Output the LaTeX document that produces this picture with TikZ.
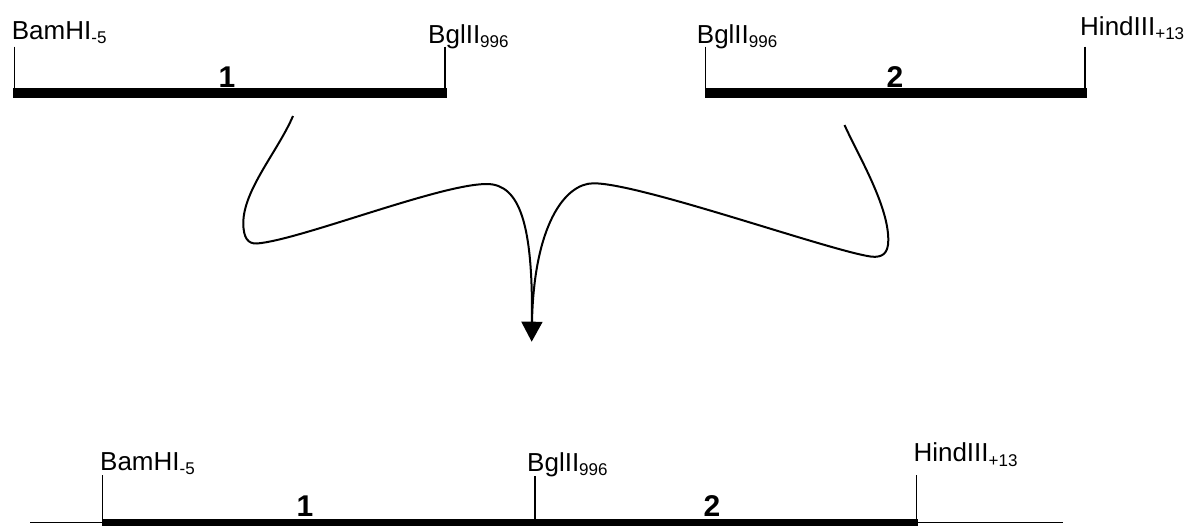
\documentclass[tikz,border=0pt]{standalone}
\usepackage{fontspec}
\setmainfont{Liberation Sans}
\usetikzlibrary{arrows.meta}
\newcommand{\mysub}[1]{\raisebox{-4.5pt}{\fontsize{17}{17}\selectfont #1}}
\begin{document}
\begin{tikzpicture}[x=1pt,y=-1pt,
  lbl/.style={anchor=base west,inner sep=0pt,font=\fontsize{26}{30}\selectfont},
  num/.style={anchor=base,inner sep=0pt,font=\fontsize{30}{33}\selectfont\bfseries},
  tickline/.style={line width=1.5pt},
  fragbar/.style={fill=black,draw=none},
  thinline/.style={line width=1.5pt},
  curve/.style={line width=2pt}]
\useasboundingbox (0,0) rectangle (1193,525);
\begin{scope}
\clip (0,0) rectangle (1193,525);
% ---- top fragment 1
\fill[fragbar] (13.3,87.5) rectangle (446.7,98);
\draw[tickline] (14.3,46.7) -- (14.3,88);
\draw[tickline] (445,46.7) -- (445,88);
\node[lbl] (bam1) at (11.7,39.3) {BamHI\mysub{-5}};
\node[lbl] (bgl1) at (428,43) {BglII\mysub{996}};
\node[num] (n1) at (227,87) {1};
% ---- top fragment 2
\fill[fragbar] (704.5,87.5) rectangle (1086.7,98);
\draw[tickline] (705.5,46.5) -- (705.5,88);
\draw[tickline] (1085,46.5) -- (1085,88);
\node[lbl] (bgl2) at (696.7,43.3) {BglII\mysub{996}};
\node[lbl] (hind2) at (1080,35) {HindIII\mysub{+13}};
\node[num] (n2) at (895,87) {2};
% ---- curves
\coordinate (s1) at (293,116);
\coordinate (s2) at (844.5,125);
\coordinate (tip) at (531.7,341.7);
\coordinate (join) at (532,322);
\draw[curve,-{Triangle[width=21pt,length=20pt]}] (s1)
  .. controls (278,151) and (243.3,190) .. (243.3,223)
  .. controls (243.3,238) and (248,244) .. (257,243.5)
  .. controls (300,240) and (440,184) .. (486.7,184)
  .. controls (520,184) and (533,225) .. (tip);
\draw[curve] (s2)
  .. controls (858,155) and (888.3,205) .. (888.3,240)
  .. controls (888.3,254) and (882,257.5) .. (871.7,256.7)
  .. controls (830,251) and (640,183) .. (593.3,183.3)
  .. controls (565,183.5) and (534,225) .. (join);
% ---- bottom construct
\draw[thinline] (30,522.5) -- (1063,522.5);
\fill[fragbar] (102.3,519) rectangle (918.3,530);
\draw[tickline] (102.3,475) -- (102.3,520);
\draw[tickline] (535,476) -- (535,520);
\draw[tickline] (916.7,475) -- (916.7,520);
\node[lbl] (bam3) at (100,470) {BamHI\mysub{-5}};
\node[lbl] (bgl3) at (527,471) {BglII\mysub{996}};
\node[lbl] (hind3) at (913.3,461.7) {HindIII\mysub{+13}};
\node[num] (n3) at (305,516) {1};
\node[num] (n4) at (712,516) {2};
\end{scope}
\end{tikzpicture}
\end{document}
